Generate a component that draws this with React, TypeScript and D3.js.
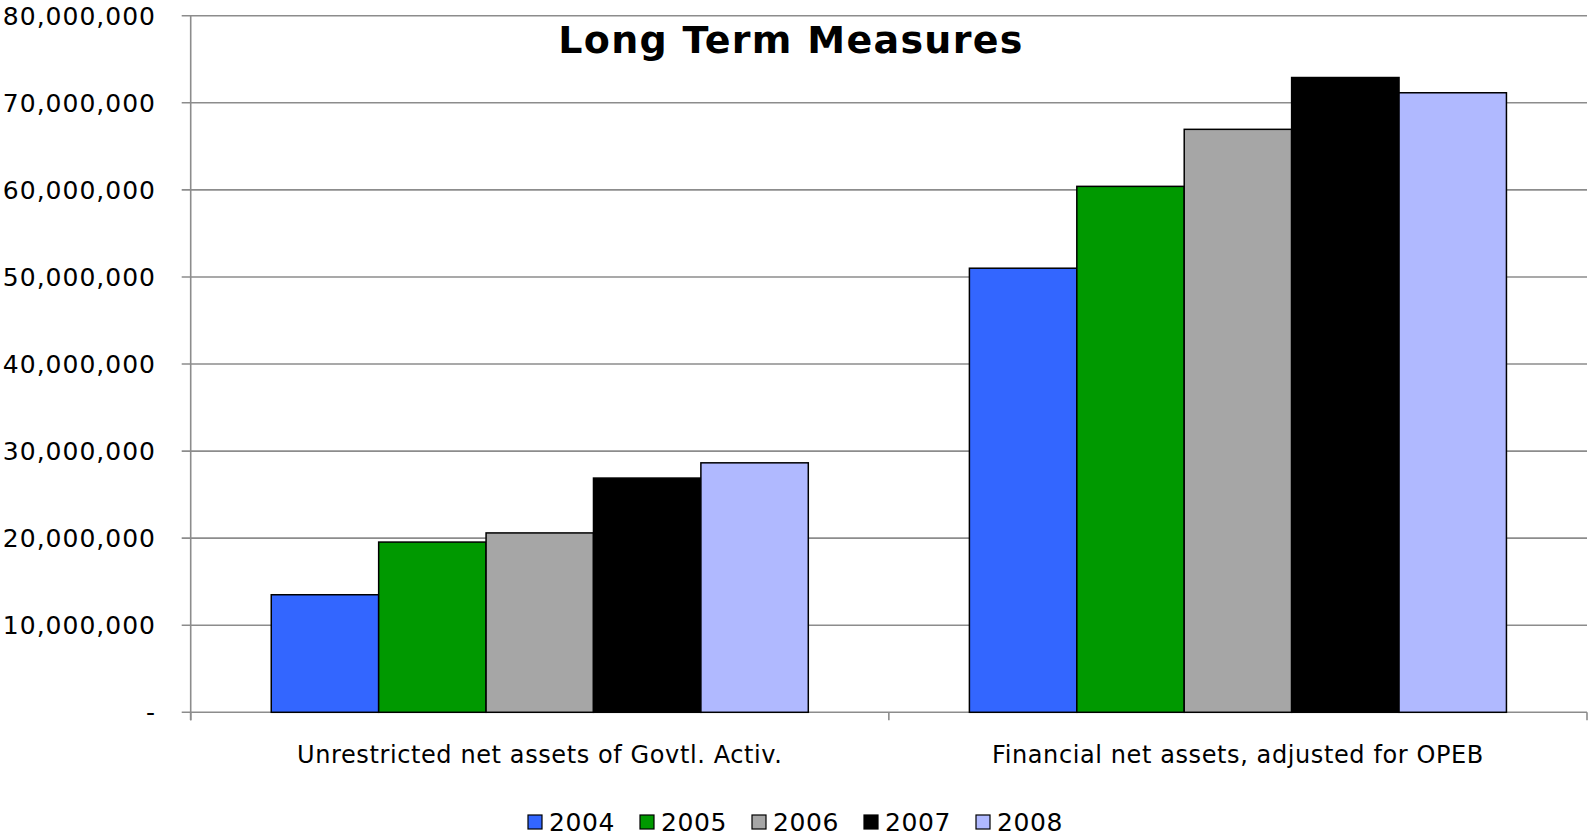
import { useEffect, useRef } from "react";
import * as d3 from "d3";

const categories = ["Unrestricted net assets of Govtl. Activ.", "Financial net assets, adjusted for OPEB"];
const years = ["2004", "2005", "2006", "2007", "2008"];
const colors = ["#3366FF", "#009900", "#A6A6A6", "#000000", "#B0B9FF"];
// values per year, one entry per category
const values2004 = [13500000, 51000000];
const values2005 = [19550000, 60400000];
const values2006 = [20600000, 66950000];
const values2007 = [26900000, 72900000];
const values2008 = [28650000, 71150000];
const yTicks = [0, 10000000, 20000000, 30000000, 40000000, 50000000, 60000000, 70000000, 80000000];

const seriesValues = [values2004, values2005, values2006, values2007, values2008];

export default function App() {
  const ref = useRef<SVGSVGElement>(null);

  useEffect(() => {
    if (!ref.current) return;
    document.body.style.margin = "0";
    const svg = d3.select(ref.current);
    svg.selectAll("*").remove();

    const W = 1591;
    const H = 836;
    const left = 190.7;
    const right = 1587;
    const top = 15.7;
    const bottom = 712.3;
    const font = "'DejaVu Sans', Verdana, sans-serif";

    const y = d3.scaleLinear().domain([0, 80000000]).range([bottom, top]);
    const x0 = d3.scaleBand<string>().domain(categories).range([left, right]).padding(0);
    const x1 = d3
      .scaleBand<string>()
      .domain(years)
      .range([0, x0.bandwidth()])
      .paddingInner(0)
      .paddingOuter(0.75);

    svg.append("rect").attr("width", W).attr("height", H).attr("fill", "#fff");

    // Gridlines + y tick labels
    const grid = svg.append("g");
    grid
      .selectAll("line")
      .data(yTicks)
      .join("line")
      .attr("x1", left - 9)
      .attr("x2", right)
      .attr("y1", (d) => y(d))
      .attr("y2", (d) => y(d))
      .attr("stroke", "#8C8C8C")
      .attr("stroke-width", 1.6);

    grid
      .selectAll("text")
      .data(yTicks)
      .join("text")
      .attr("x", 156)
      .attr("y", (d) => y(d))
      .attr("dy", "0.36em")
      .attr("text-anchor", "end")
      .attr("font-family", font)
      .attr("font-size", 25)
      .attr("letter-spacing", 1)
      .attr("fill", "#000")
      .text((d) => (d === 0 ? "-" : d3.format(",")(d)));

    // Y axis line
    svg
      .append("line")
      .attr("x1", left)
      .attr("x2", left)
      .attr("y1", top)
      .attr("y2", bottom + 8)
      .attr("stroke", "#8C8C8C")
      .attr("stroke-width", 1.6);

    // x ticks at category boundaries
    const bounds = [left, ...categories.map((c) => (x0(c) as number) + x0.bandwidth())];
    svg
      .append("g")
      .selectAll("line")
      .data(bounds)
      .join("line")
      .attr("x1", (d) => d)
      .attr("x2", (d) => d)
      .attr("y1", bottom)
      .attr("y2", bottom + 8)
      .attr("stroke", "#8C8C8C")
      .attr("stroke-width", 1.6);

    // Bars
    const groups = svg
      .append("g")
      .selectAll("g")
      .data(categories)
      .join("g")
      .attr("transform", (c) => `translate(${x0(c)},0)`);

    groups
      .selectAll("rect")
      .data((_, ci) => years.map((yr, si) => ({ yr, si, v: seriesValues[si][ci] })))
      .join("rect")
      .attr("x", (d) => x1(d.yr) as number)
      .attr("width", x1.bandwidth())
      .attr("y", (d) => y(d.v))
      .attr("height", (d) => y(0) - y(d.v))
      .attr("fill", (d) => colors[d.si])
      .attr("stroke", "#000")
      .attr("stroke-width", 1.5);

    // Category labels
    svg
      .append("g")
      .selectAll("text")
      .data(categories)
      .join("text")
      .attr("x", (c) => (x0(c) as number) + x0.bandwidth() / 2)
      .attr("y", 763)
      .attr("text-anchor", "middle")
      .attr("font-family", font)
      .attr("font-size", 24)
      .attr("letter-spacing", 0.6)
      .attr("fill", "#000")
      .text((c) => c);

    // Title
    svg
      .append("text")
      .attr("x", 791)
      .attr("y", 53)
      .attr("text-anchor", "middle")
      .attr("font-family", font)
      .attr("font-weight", "bold")
      .attr("font-size", 38)
      .attr("letter-spacing", 1.3)
      .attr("fill", "#000")
      .text("Long Term Measures");

    // Legend
    const legend = svg
      .append("g")
      .selectAll("g")
      .data(years)
      .join("g")
      .attr("transform", (_, i) => `translate(${528 + i * 112},815)`);
    legend
      .append("rect")
      .attr("width", 14)
      .attr("height", 14)
      .attr("fill", (_, i) => colors[i])
      .attr("stroke", "#000")
      .attr("stroke-width", 1.2);
    legend
      .append("text")
      .attr("x", 21)
      .attr("y", 7)
      .attr("dy", "0.36em")
      .attr("font-family", font)
      .attr("font-size", 25)
      .attr("letter-spacing", 0.6)
      .attr("fill", "#000")
      .text((d) => d);
  }, []);

  return (
    <div style={{ position: "absolute", left: 0, top: 0 }}>
      <svg ref={ref} width={1591} height={836} style={{ display: "block" }} />
    </div>
  );
}
